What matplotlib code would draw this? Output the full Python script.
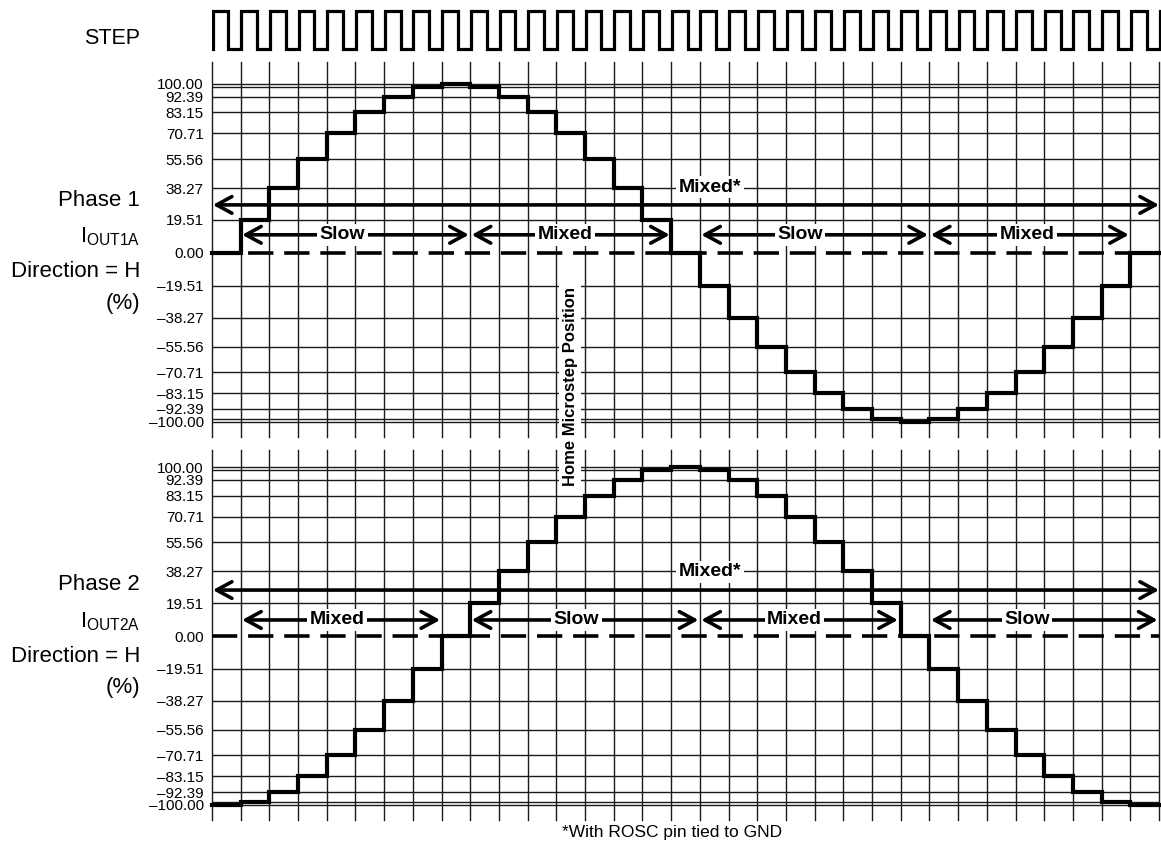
import matplotlib
matplotlib.use("Agg")
import matplotlib.pyplot as plt
import numpy as np
from matplotlib import font_manager

plt.rcParams["font.family"] = ["Liberation Sans", "DejaVu Sans"]
plt.rcParams["mathtext.fontset"] = "custom"
plt.rcParams["mathtext.rm"] = "Liberation Sans"
plt.rcParams["mathtext.it"] = "Liberation Sans"

# Microstep current levels (%), one value per STEP pulse
phase1 = [0.00, 19.51, 38.27, 55.56, 70.71, 83.15, 92.39, 98.08, 100.00,
          98.08, 92.39, 83.15, 70.71, 55.56, 38.27, 19.51, 0.00,
          -19.51, -38.27, -55.56, -70.71, -83.15, -92.39, -98.08, -100.00,
          -98.08, -92.39, -83.15, -70.71, -55.56, -38.27, -19.51, 0.00]
phase2 = [-100.00, -98.08, -92.39, -83.15, -70.71, -55.56, -38.27, -19.51, 0.00,
          19.51, 38.27, 55.56, 70.71, 83.15, 92.39, 98.08, 100.00,
          98.08, 92.39, 83.15, 70.71, 55.56, 38.27, 19.51, 0.00,
          -19.51, -38.27, -55.56, -70.71, -83.15, -92.39, -98.08, -100.00]

grid_levels = [100.00, 98.08, 92.39, 83.15, 70.71, 55.56, 38.27, 19.51, 0.00,
               -19.51, -38.27, -55.56, -70.71, -83.15, -92.39, -98.08, -100.00]
tick_levels = [100.00, 92.39, 83.15, 70.71, 55.56, 38.27, 19.51, 0.00,
               -19.51, -38.27, -55.56, -70.71, -83.15, -92.39, -100.00]
tick_labels = ["100.00", "92.39", "83.15", "70.71", "55.56", "38.27", "19.51", "0.00",
               "\u201319.51", "\u201338.27", "\u201355.56", "\u201370.71", "\u201383.15",
               "\u201392.39", "\u2013100.00"]

# decay-mode arrows: (start step, end step, label, label x)
phase1_modes = [(1.05, 8.95, "Slow", 4.55), (9.05, 15.95, "Mixed", 12.3),
                (17.05, 24.95, "Slow", 20.5), (25.05, 31.95, "Mixed", 28.4)]
phase2_modes = [(1.05, 7.95, "Mixed", 4.35), (9.05, 16.95, "Slow", 12.7),
                (17.05, 23.9, "Mixed", 20.3), (25.05, 32.95, "Slow", 28.4)]

# condensed face for the tick and mode labels if it is installed
names = {f.name for f in font_manager.fontManager.ttflist}
if "Liberation Sans Narrow" in names:
    NARROW = ["Liberation Sans Narrow", "Liberation Sans"]
    tick_size, mode_size, home_size = 12.5, 17, 13.5
else:
    NARROW = ["Liberation Sans", "DejaVu Sans"]
    tick_size, mode_size, home_size = 11, 14, 12

n_steps = len(phase1)
W, H = 1161, 848
fig = plt.figure(figsize=(W / 100, H / 100), dpi=100)
GRID = "#1a1a1a"


def px_axes(x0, y0, x1, y1):
    return fig.add_axes([x0 / W, 1 - y1 / H, (x1 - x0) / W, (y1 - y0) / H])


def draw_panel(ax, values, modes, ylim, mixed_y, mode_y, star_y):
    ax.set_xlim(0, n_steps)
    ax.set_ylim(*ylim)
    for s in ax.spines.values():
        s.set_visible(False)
    ax.set_xticks([])
    ax.set_yticks(tick_levels, tick_labels)
    ax.tick_params(axis="y", length=0, pad=6)
    for lab in ax.get_yticklabels():
        lab.set_fontfamily(NARROW)
        lab.set_fontsize(tick_size)
    for xv in range(n_steps + 1):
        ax.axvline(xv, color=GRID, lw=1.0, zorder=1, clip_on=False)
    for yv in grid_levels:
        if yv != 0:
            ax.axhline(yv, color=GRID, lw=1.0, zorder=1)
    ax.axhline(0, color="black", lw=2.6, ls=(0, (7, 3)), zorder=2)

    xs = np.arange(n_steps + 1)
    ax.plot(xs, values + [values[-1]], drawstyle="steps-post", color="black",
            lw=3.0, zorder=6, solid_joinstyle="miter", clip_on=False)

    arrow = dict(arrowstyle="<->,head_length=0.55,head_width=0.3", lw=2.6,
                 color="black", shrinkA=0, shrinkB=0, mutation_scale=20)
    box = dict(boxstyle="square,pad=0.12", fc="white", ec="none")
    ax.annotate("", xy=(0.03, mixed_y), xytext=(n_steps, mixed_y),
                arrowprops=arrow, annotation_clip=False, zorder=4)
    ax.text(17.35, star_y, "Mixed*", ha="center", va="center", fontsize=mode_size,
            fontweight="bold", family=NARROW, zorder=5, bbox=box)
    for x0, x1, label, lx in modes:
        ax.annotate("", xy=(x0, mode_y), xytext=(x1, mode_y),
                    arrowprops=arrow, annotation_clip=False, zorder=4)
        ax.text(lx, mode_y, label, ha="center", va="center", fontsize=mode_size,
                fontweight="bold", family=NARROW, zorder=5, bbox=box)


# STEP signal
ax_step = px_axes(212, 8, 1161, 52)
duty = 0.55
sx, sy = [0], [0]
for k in range(n_steps):
    sx += [k, k, k + duty, k + duty]
    sy += [0, 1, 1, 0]
sx += [n_steps, n_steps]
sy += [0, 1]
ax_step.plot(sx, sy, color="black", lw=2.3, solid_joinstyle="miter")
ax_step.set_xlim(-0.02, n_steps + 0.05)
ax_step.set_ylim(-0.08, 1.08)
ax_step.axis("off")

ax1 = px_axes(212, 62, 1159, 437)
draw_panel(ax1, phase1, phase1_modes, (-109.0, 113.0), 28.4, 10.7, 39.0)

ax2 = px_axes(212, 450, 1159, 820)
draw_panel(ax2, phase2, phase2_modes, (-108.9, 110.1), 27.2, 9.5, 37.9)

# left-hand labels
lx = 140 / W
fig.text(lx, 1 - 38 / H, "STEP", ha="right", va="center", fontsize=15.5)
for y0, n in [(200, 1), (585, 2)]:
    fig.text(lx, 1 - y0 / H, f"Phase {n}", ha="right", va="center", fontsize=16)
    fig.text(lx, 1 - (y0 + 37) / H, "I$_{\\rm OUT%dA}$" % n, ha="right",
             va="center", fontsize=16)
    fig.text(lx, 1 - (y0 + 72) / H, "Direction = H", ha="right", va="center",
             fontsize=16)
    fig.text(lx, 1 - (y0 + 103) / H, "(%)", ha="right", va="center", fontsize=16)

fig.text(570 / W, 1 - 386 / H, "Home Microstep Position", rotation=90,
         ha="center", va="center", fontsize=home_size, fontweight="bold",
         family=NARROW, zorder=10,
         bbox=dict(boxstyle="square,pad=0.2", fc="white", ec="none"))
fig.text(672 / W, 1 - 832 / H, "*With ROSC pin tied to GND", ha="center",
         va="center", fontsize=12.5, family=NARROW)

fig.savefig("out.png", dpi=100)
